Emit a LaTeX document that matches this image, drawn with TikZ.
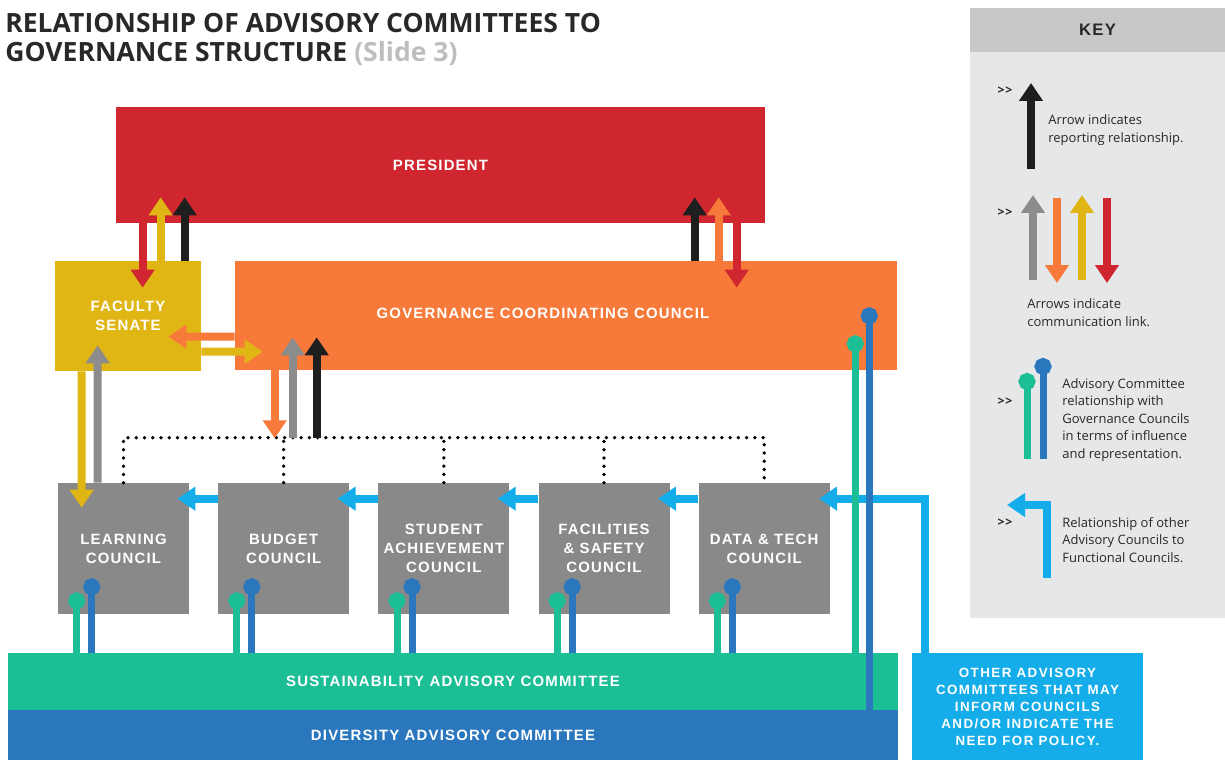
\documentclass[tikz,border=0pt]{standalone}
\usepackage{fontspec}
\setmainfont{Open Sans}
\newfontfamily\boxfont[LetterSpace=8]{Liberation Sans}
\newfontfamily\widefont[LetterSpace=11]{Liberation Sans}
\newfontfamily\titlefont{Open Sans}
\usetikzlibrary{arrows.meta,positioning,calc}

\definecolor{presred}{RGB}{208,38,48}
\definecolor{senateyellow}{RGB}{224,182,20}
\definecolor{gccorange}{RGB}{247,122,58}
\definecolor{councilgray}{RGB}{137,137,137}
\definecolor{arrowgray}{RGB}{140,140,140}
\definecolor{arrowblack}{RGB}{30,30,30}
\definecolor{advteal}{RGB}{28,190,150}
\definecolor{advblue}{RGB}{42,119,190}
\definecolor{skyblue}{RGB}{20,172,233}
\definecolor{keyback}{RGB}{230,231,232}
\definecolor{keyhead}{RGB}{200,200,200}
\definecolor{slidegray}{RGB}{190,190,190}
\definecolor{inkgray}{RGB}{40,40,40}

% one unit = one pixel of the slide
\newcommand\px{0.02cm}

\begin{document}
\begin{tikzpicture}[x=\px,y=-\px,
    box/.style={rectangle, inner sep=0pt, text=white, align=center,
      font=\boxfont\bfseries\fontsize{8.5}{10.8}\selectfont},
    council/.style={box, fill=councilgray, minimum width=2.62cm, minimum height=2.62cm},
    link/.style={line width=0.16cm, -{Triangle[width=0.46cm,length=0.36cm]}},
    stem/.style={line width=0.14cm, {Circle[length=0.34cm]}-},
    dots/.style={line width=0.075cm, line cap=round, dash pattern=on 0pt off 0.165cm},
    keytext/.style={anchor=west, align=left, inner sep=0pt, text=inkgray,
      font=\fontsize{7.4}{10}\selectfont},
    chevrons/.style={inner sep=0pt, text=inkgray, font=\bfseries\fontsize{7}{8}\selectfont},
    titletext/.style={anchor=base west, inner sep=0pt, text=inkgray,
      font=\titlefont\bfseries\fontsize{15.1}{17}\selectfont}
  ]
    \useasboundingbox (0,0) rectangle (1225,760);

    % heading
    \node[titletext] (title1) at (5,33) {RELATIONSHIP OF ADVISORY COMMITTEES TO};
    \node[titletext] (title2) at ($(title1.base west)+(0,29)$)
        {GOVERNANCE STRUCTURE \textcolor{slidegray}{(Slide 3)}};

    % governance bodies
    \node[box, fill=presred, minimum width=12.98cm, minimum height=2.32cm] (pres) at (440.5,165) {PRESIDENT};
    \node[box, fill=senateyellow, minimum width=2.92cm, minimum height=2.2cm] (senate) at (128,316) {FACULTY\\SENATE};
    \node[box, fill=gccorange, minimum width=13.24cm, minimum height=2.18cm] (gcc) at (566,315.5) {};
    \node[box] (gcclabel) at (543,313) {GOVERNANCE COORDINATING COUNCIL};

    \node[council] (learn) at (123.5,548.5) {LEARNING\\COUNCIL};
    \node[council, right=0.57cm of learn] (budget) {BUDGET\\COUNCIL};
    \node[council, right=0.57cm of budget] (student) {STUDENT\\ACHIEVEMENT\\COUNCIL};
    \node[council, right=0.57cm of student] (facil) {FACILITIES\\\& SAFETY\\COUNCIL};
    \node[council, right=0.57cm of facil] (data) {DATA \& TECH\\COUNCIL};

    % advisory committees
    \node[box, fill=advteal, minimum width=17.8cm, minimum height=1.14cm] (sus) at (453,681.5) {SUSTAINABILITY ADVISORY COMMITTEE};
    \node[box, fill=advblue, minimum width=17.8cm, minimum height=1.0cm] (div) at (453,735) {DIVERSITY ADVISORY COMMITTEE};
    \node[box, fill=skyblue, minimum width=4.62cm, minimum height=2.14cm,
          font=\widefont\bfseries\fontsize{7.6}{9.7}\selectfont] (other) at (1027.5,706.5)
        {OTHER ADVISORY\\COMMITTEES THAT MAY\\INFORM COUNCILS\\AND/OR INDICATE THE\\NEED FOR POLICY.};

    % key panel
    \node[fill=keyback, minimum width=5.1cm, minimum height=12.2cm, inner sep=0pt] (key) at (1097.5,313) {};
    \node[fill=keyhead, minimum width=5.1cm, minimum height=0.88cm, inner sep=0pt, anchor=north,
          text=inkgray, font=\boxfont\bfseries\fontsize{9.5}{11}\selectfont] (keyhead) at (key.north) {KEY};

    % dotted bus over the councils
    \draw[dots] (learn.north) -- ++(0,-45) coordinate (bus) -| (data.north);
    \foreach \c in {budget,student,facil}
        \draw[dots] (\c.north) -- (\c.north |- bus);

    % president <-> senate
    \draw[link, presred]      ($(pres.south -| senate.west)+(88,0)$)   -- ($(senate.north west)+(88,27)$);
    \draw[link, senateyellow] ($(senate.north west)+(106,0)$)          -- ($(pres.south -| senate.west)+(106,-26)$);
    \draw[link, arrowblack]   ($(senate.north west)+(130,0)$)          -- ($(pres.south -| senate.west)+(130,-26)$);

    % president <-> gcc
    \draw[link, arrowblack]   ($(gcc.north west)+(460,0)$)             -- ($(pres.south -| gcc.west)+(460,-26)$);
    \draw[link, gccorange]    ($(gcc.north west)+(484,0)$)             -- ($(pres.south -| gcc.west)+(484,-26)$);
    \draw[link, presred]      ($(pres.south -| gcc.west)+(502,0)$)     -- ($(gcc.north west)+(502,27)$);

    % senate <-> gcc
    \draw[link, gccorange]    ($(gcc.north west)+(0,76)$)              -- ($(senate.north east)+(-33,76)$);
    \draw[link, senateyellow] ($(senate.north east)+(0,91)$)           -- ($(gcc.north west)+(28,91)$);

    % senate <-> learning council
    \draw[link, senateyellow] ($(senate.south west)+(27,0)$)           -- ($(learn.north west)+(24,25)$);
    \draw[link, arrowgray]    ($(learn.north west)+(40,0)$)            -- ($(senate.south west)+(43,-26)$);

    % gcc <-> councils
    \draw[link, gccorange]    ($(gcc.south west)+(40,0)$)              -- ++(0,68);
    \draw[link, arrowgray]    ($(gcc.south west)+(58,68)$)             -- ($(gcc.south west)+(58,-33)$);
    \draw[link, arrowblack]   ($(gcc.south west)+(82,68)$)             -- ($(gcc.south west)+(82,-33)$);

    % functional councils feed one another
    \foreach \a/\b in {learn/budget, budget/student, student/facil, facil/data}
        \draw[link, skyblue] ($(\b.north west)+(0,16)$) -- ($(\a.north east)+(-12,16)$);
    \draw[link, skyblue] ($(other.north west)+(13,0)$) |- ($(data.north east)+(-11,16)$);

    % advisory committees reach into every council
    \foreach \c in {learn,budget,student,facil,data}{
        \draw[stem, advteal] ($(\c.south west)+(19,-22)$) coordinate (t) -- (t |- sus.north);
        \draw[stem, advblue] ($(\c.south west)+(34,-36)$) coordinate (b) -- (b |- sus.north);
    }
    \draw[stem, advteal] ($(gcc.south east)+(-42,-35)$) coordinate (t) -- (t |- sus.north);
    \draw[stem, advblue] ($(gcc.south east)+(-28,-63)$) coordinate (b) -- (b |- div.north);

    % key entries
    \node[chevrons] (chev1) at (1005,91)  {>\kern.4pt>};
    \draw[link, arrowblack] (1031,169) -- (1031,83);
    \node[keytext] (keyreport) at (1048,130) {Arrow indicates\\reporting relationship.};

    \node[chevrons] (chev2) at (1005,213) {>\kern.4pt>};
    \draw[link, arrowgray]    (1033,280) -- (1033,195);
    \draw[link, gccorange]    (1057,198) -- (1057,283);
    \draw[link, senateyellow] (1082,280) -- (1082,195);
    \draw[link, presred]      (1107,198) -- (1107,283);
    \node[keytext] (keycomm) at (1027,312.5) {Arrows indicate\\communication link.};

    \node[chevrons] (chev3) at (1005,402) {>\kern.4pt>};
    \draw[stem, advteal] (1027,373) -- (1027,459);
    \draw[stem, advblue] (1043,358) -- (1043,459);
    \node[keytext] (keyadv) at (1062,420)
        {Advisory Committee\\relationship with\\Governance Councils\\in terms of influence\\and representation.};

    \node[chevrons] (chev4) at (1005,523) {>\kern.4pt>};
    \draw[link, skyblue] (1047,578) |- (1007,505);
    \node[keytext] (keyfunc) at (1062,540)
        {Relationship of other\\Advisory Councils to\\Functional Councils.};
\end{tikzpicture}
\end{document}
